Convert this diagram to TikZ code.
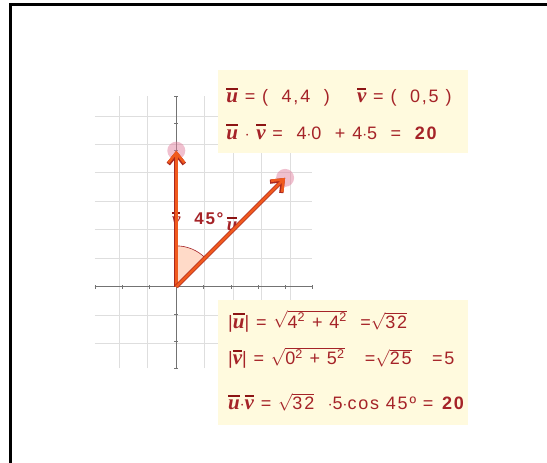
\documentclass[tikz,border=0pt]{standalone}
\usepackage{fontspec}
\setmainfont{Liberation Sans}[LetterSpace=10]
\newfontfamily\vecfont{Liberation Serif}
\usetikzlibrary{arrows.meta}

\definecolor{txtred}{RGB}{165,35,40}
\definecolor{barred}{RGB}{140,20,20}
\definecolor{boxfill}{RGB}{255,250,222}
\definecolor{gridgray}{RGB}{222,222,222}
\definecolor{vecorange}{RGB}{240,90,30}
\definecolor{vecedge}{RGB}{170,40,30}
\definecolor{dotpink}{RGB}{225,130,160}
\definecolor{anglefill}{RGB}{255,218,200}

% vector name with a bar
\newcommand{\vb}[1]{\setbox0\hbox{\vecfont\bfseries\itshape\fontsize{21}{24}\selectfont #1}%
  \rlap{\raisebox{\dimexpr\ht0+3pt\relax}{\color{barred}\rule{\wd0}{2pt}}}\box0}
\newcommand{\sq}[1]{$\sqrt{\mbox{#1}}$}

\tikzset{
  txt/.style={anchor=west, inner sep=0pt, text=txtred, font=\fontsize{18}{21}\selectfont},
  vec/.style={-{Straight Barb[length=10pt,width=16pt]}, line width=2.6pt, draw=vecorange,
    preaction={draw=vecedge, line width=4.2pt}},
  dot/.style={circle, fill=dotpink, fill opacity=0.5, minimum size=18pt, inner sep=0pt},
  infobox/.style={fill=boxfill}
}

\begin{document}
\begin{tikzpicture}[x=27.2pt,y=27.2pt]
    \useasboundingbox (-6.482,-6.482) rectangle (13.629,10.540);
    % Frame
    \draw[line width=3pt] (-6.114,-6.482) |- (13.629,10.357);

    % Grid and axes
    \draw[gridgray, line width=0.8pt] (-3,-3) grid (5,7);
    \draw[black!55, line width=0.9pt] (-3,0) -- (5,0);
    \draw[black!55, line width=0.9pt] (0,-3) -- (0,7);
    \foreach \i in {-3,...,5} \draw[black!55] (\i,-0.08) -- (\i,0.08);
    \foreach \j in {-3,...,7} \draw[black!55] (-0.08,\j) -- (0.08,\j);

    % Angle
    \coordinate (O) at (0,0);
    \fill[anglefill] (O) -- (90:1.5) arc (90:45:1.5) -- cycle;
    \draw[txtred, line width=0.6pt] (90:1.5) arc (90:45:1.5);

    % Labels on the vectors
    \node[txt, anchor=center, scale=0.9] (ulab) at (2.05,2.3) {\vb{u}};
    \node[txt, anchor=center, scale=0.9] (vlab) at (0,2.5) {\vb{v}};

    % Points and vectors
    \node[dot] (V) at (0,5) {};
    \node[dot] (U) at (4,4) {};
    \draw[vec] (O) -- (V.center);
    \draw[vec] (O) -- (U.center);
    \node[txt, anchor=center, font=\fontsize{17}{20}\bfseries] (ang) at (1.2,2.5) {45°};

    % Top box
    \fill[infobox] (1.53,4.90) rectangle (10.72,7.97);
    \node[txt] (coords) at (1.83,6.97) {\vb{u}\ = (\ \ 4,4\ \ )\ \ \ \ \vb{v}\ = (\ \ 0,5\ )};
    \node[txt] (dot1) at (1.83,5.69) {\vb{u}\ $\cdot$\ \vb{v}\ =\ \ 4$\cdot$0\ \ +\ 4$\cdot$5\ \ =\ \ \textbf{20}};

    % Bottom box
    \fill[infobox] (1.53,-5.08) rectangle (10.72,-0.49);
    \node[txt] (normu) at (1.90,-1.27) {|\vb{u}|\ = \sq{4\textsuperscript{2} + 4\textsuperscript{2}}\ \ =\sq{32}};
    \node[txt] (normv) at (1.90,-2.63) {|\vb{v}|\ = \sq{0\textsuperscript{2} + 5\textsuperscript{2}}\ \ \ =\sq{25}\ \ \ =5};
    \node[txt] (dot2) at (1.90,-4.25) {\vb{u}$\cdot$\vb{v}\ = \sq{32}\ \ $\cdot$5$\cdot$cos 45º = \textbf{20}};
\end{tikzpicture}
\end{document}
